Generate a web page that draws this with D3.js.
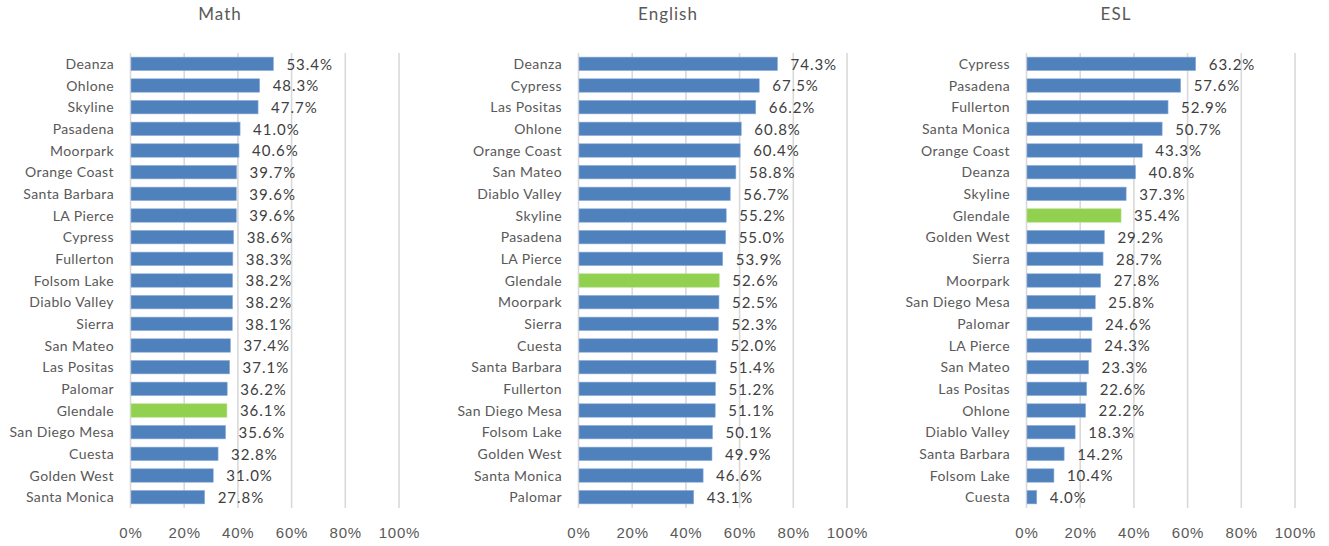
<!DOCTYPE html>
<html>
<head>
<meta charset="utf-8">
<script src="https://cdn.jsdelivr.net/npm/d3@7.9.0/dist/d3.min.js"></script>
<style>
  body { margin: 0; background: #fff; }
  svg { display: block; font-family: Lato, "Liberation Sans", sans-serif; }
</style>
</head>
<body>
<svg id="chart" width="1329" height="546"></svg>
<script>
const mathColleges = ['Deanza', 'Ohlone', 'Skyline', 'Pasadena', 'Moorpark', 'Orange Coast', 'Santa Barbara',
  'LA Pierce', 'Cypress', 'Fullerton', 'Folsom Lake', 'Diablo Valley', 'Sierra', 'San Mateo', 'Las Positas',
  'Palomar', 'Glendale', 'San Diego Mesa', 'Cuesta', 'Golden West', 'Santa Monica'];
const mathValues = [53.4, 48.3, 47.7, 41.0, 40.6, 39.7, 39.6, 39.6, 38.6, 38.3, 38.2, 38.2, 38.1, 37.4, 37.1,
  36.2, 36.1, 35.6, 32.8, 31.0, 27.8];

const englishColleges = ['Deanza', 'Cypress', 'Las Positas', 'Ohlone', 'Orange Coast', 'San Mateo', 'Diablo Valley',
  'Skyline', 'Pasadena', 'LA Pierce', 'Glendale', 'Moorpark', 'Sierra', 'Cuesta', 'Santa Barbara', 'Fullerton',
  'San Diego Mesa', 'Folsom Lake', 'Golden West', 'Santa Monica', 'Palomar'];
const englishValues = [74.3, 67.5, 66.2, 60.8, 60.4, 58.8, 56.7, 55.2, 55.0, 53.9, 52.6, 52.5, 52.3, 52.0, 51.4,
  51.2, 51.1, 50.1, 49.9, 46.6, 43.1];

const eslColleges = ['Cypress', 'Pasadena', 'Fullerton', 'Santa Monica', 'Orange Coast', 'Deanza', 'Skyline',
  'Glendale', 'Golden West', 'Sierra', 'Moorpark', 'San Diego Mesa', 'Palomar', 'LA Pierce', 'San Mateo',
  'Las Positas', 'Ohlone', 'Diablo Valley', 'Santa Barbara', 'Folsom Lake', 'Cuesta'];
const eslValues = [63.2, 57.6, 52.9, 50.7, 43.3, 40.8, 37.3, 35.4, 29.2, 28.7, 27.8, 25.8, 24.6, 24.3, 23.3,
  22.6, 22.2, 18.3, 14.2, 10.4, 4.0];

const panelTitles = ['Math', 'English', 'ESL'];
const xTicks = [0, 20, 40, 60, 80, 100];
const highlight = 'Glendale';

const panels = [
  { title: panelTitles[0], names: mathColleges, values: mathValues },
  { title: panelTitles[1], names: englishColleges, values: englishValues },
  { title: panelTitles[2], names: eslColleges, values: eslValues },
];

const svg = d3.select('#chart');
const panelStep = 448;
const plotLeft = 130;
const plotWidth = 268.5;
const plotTop = 53;
const plotBottom = 508;

panels.forEach((p, i) => {
  const x0 = plotLeft + i * panelStep;
  const x = d3.scaleLinear().domain([0, 100]).range([x0, x0 + plotWidth]);
  const y = d3.scaleBand().domain(p.names).range([plotTop, plotBottom]).paddingInner(0.38).paddingOuter(0.19);

  const g = svg.append('g');

  // gridlines + tick labels
  const axis = d3.axisBottom(x)
    .tickValues(xTicks)
    .tickFormat((d) => d + '%')
    .tickSizeInner(-(plotBottom - plotTop))
    .tickSizeOuter(0)
    .tickPadding(19);
  const ax = g.append('g').attr('transform', `translate(0,${plotBottom})`).call(axis);
  ax.select('.domain').remove();
  ax.selectAll('line').attr('stroke', '#d9d9d9').attr('stroke-width', 1.6);
  ax.selectAll('text')
    .attr('fill', '#595959')
    .attr('font-size', 15)
    .attr('letter-spacing', 0.8)
    .attr('dx', 0.4);

  // bars
  g.selectAll('rect.bar')
    .data(p.names)
    .join('rect')
    .attr('class', 'bar')
    .attr('x', x(0) + 1)
    .attr('y', (d) => y(d))
    .attr('width', (d, j) => x(p.values[j]) - x(0) - 1)
    .attr('height', y.bandwidth())
    .attr('fill', (d) => (d === highlight ? '#92d050' : '#4f81bd'))
    .attr('stroke', (d) => (d === highlight ? '#b5e08a' : '#8eaedb'))
    .attr('stroke-width', 0.6);

  // value labels
  g.selectAll('text.val')
    .data(p.names)
    .join('text')
    .attr('class', 'val')
    .attr('x', (d, j) => x(p.values[j]) + 13)
    .attr('y', (d) => y(d) + y.bandwidth() / 2)
    .attr('dy', '0.38em')
    .attr('fill', '#404040')
    .attr('font-size', 15)
    .attr('letter-spacing', 1)
    .text((d, j) => p.values[j].toFixed(1) + '%');

  // category labels
  g.selectAll('text.cat')
    .data(p.names)
    .join('text')
    .attr('class', 'cat')
    .attr('x', x0 - 16)
    .attr('y', (d) => y(d) + y.bandwidth() / 2)
    .attr('dy', '0.36em')
    .attr('text-anchor', 'end')
    .attr('fill', '#595959')
    .attr('font-size', 14)
    .attr('letter-spacing', 0.4)
    .text((d) => d);

  // title
  g.append('text')
    .attr('x', 220 + i * 448)
    .attr('y', 13.5)
    .attr('dy', '0.36em')
    .attr('text-anchor', 'middle')
    .attr('fill', '#595959')
    .attr('font-size', 17)
    .attr('letter-spacing', 1)
    .text(p.title);
});
</script>
</body>
</html>
